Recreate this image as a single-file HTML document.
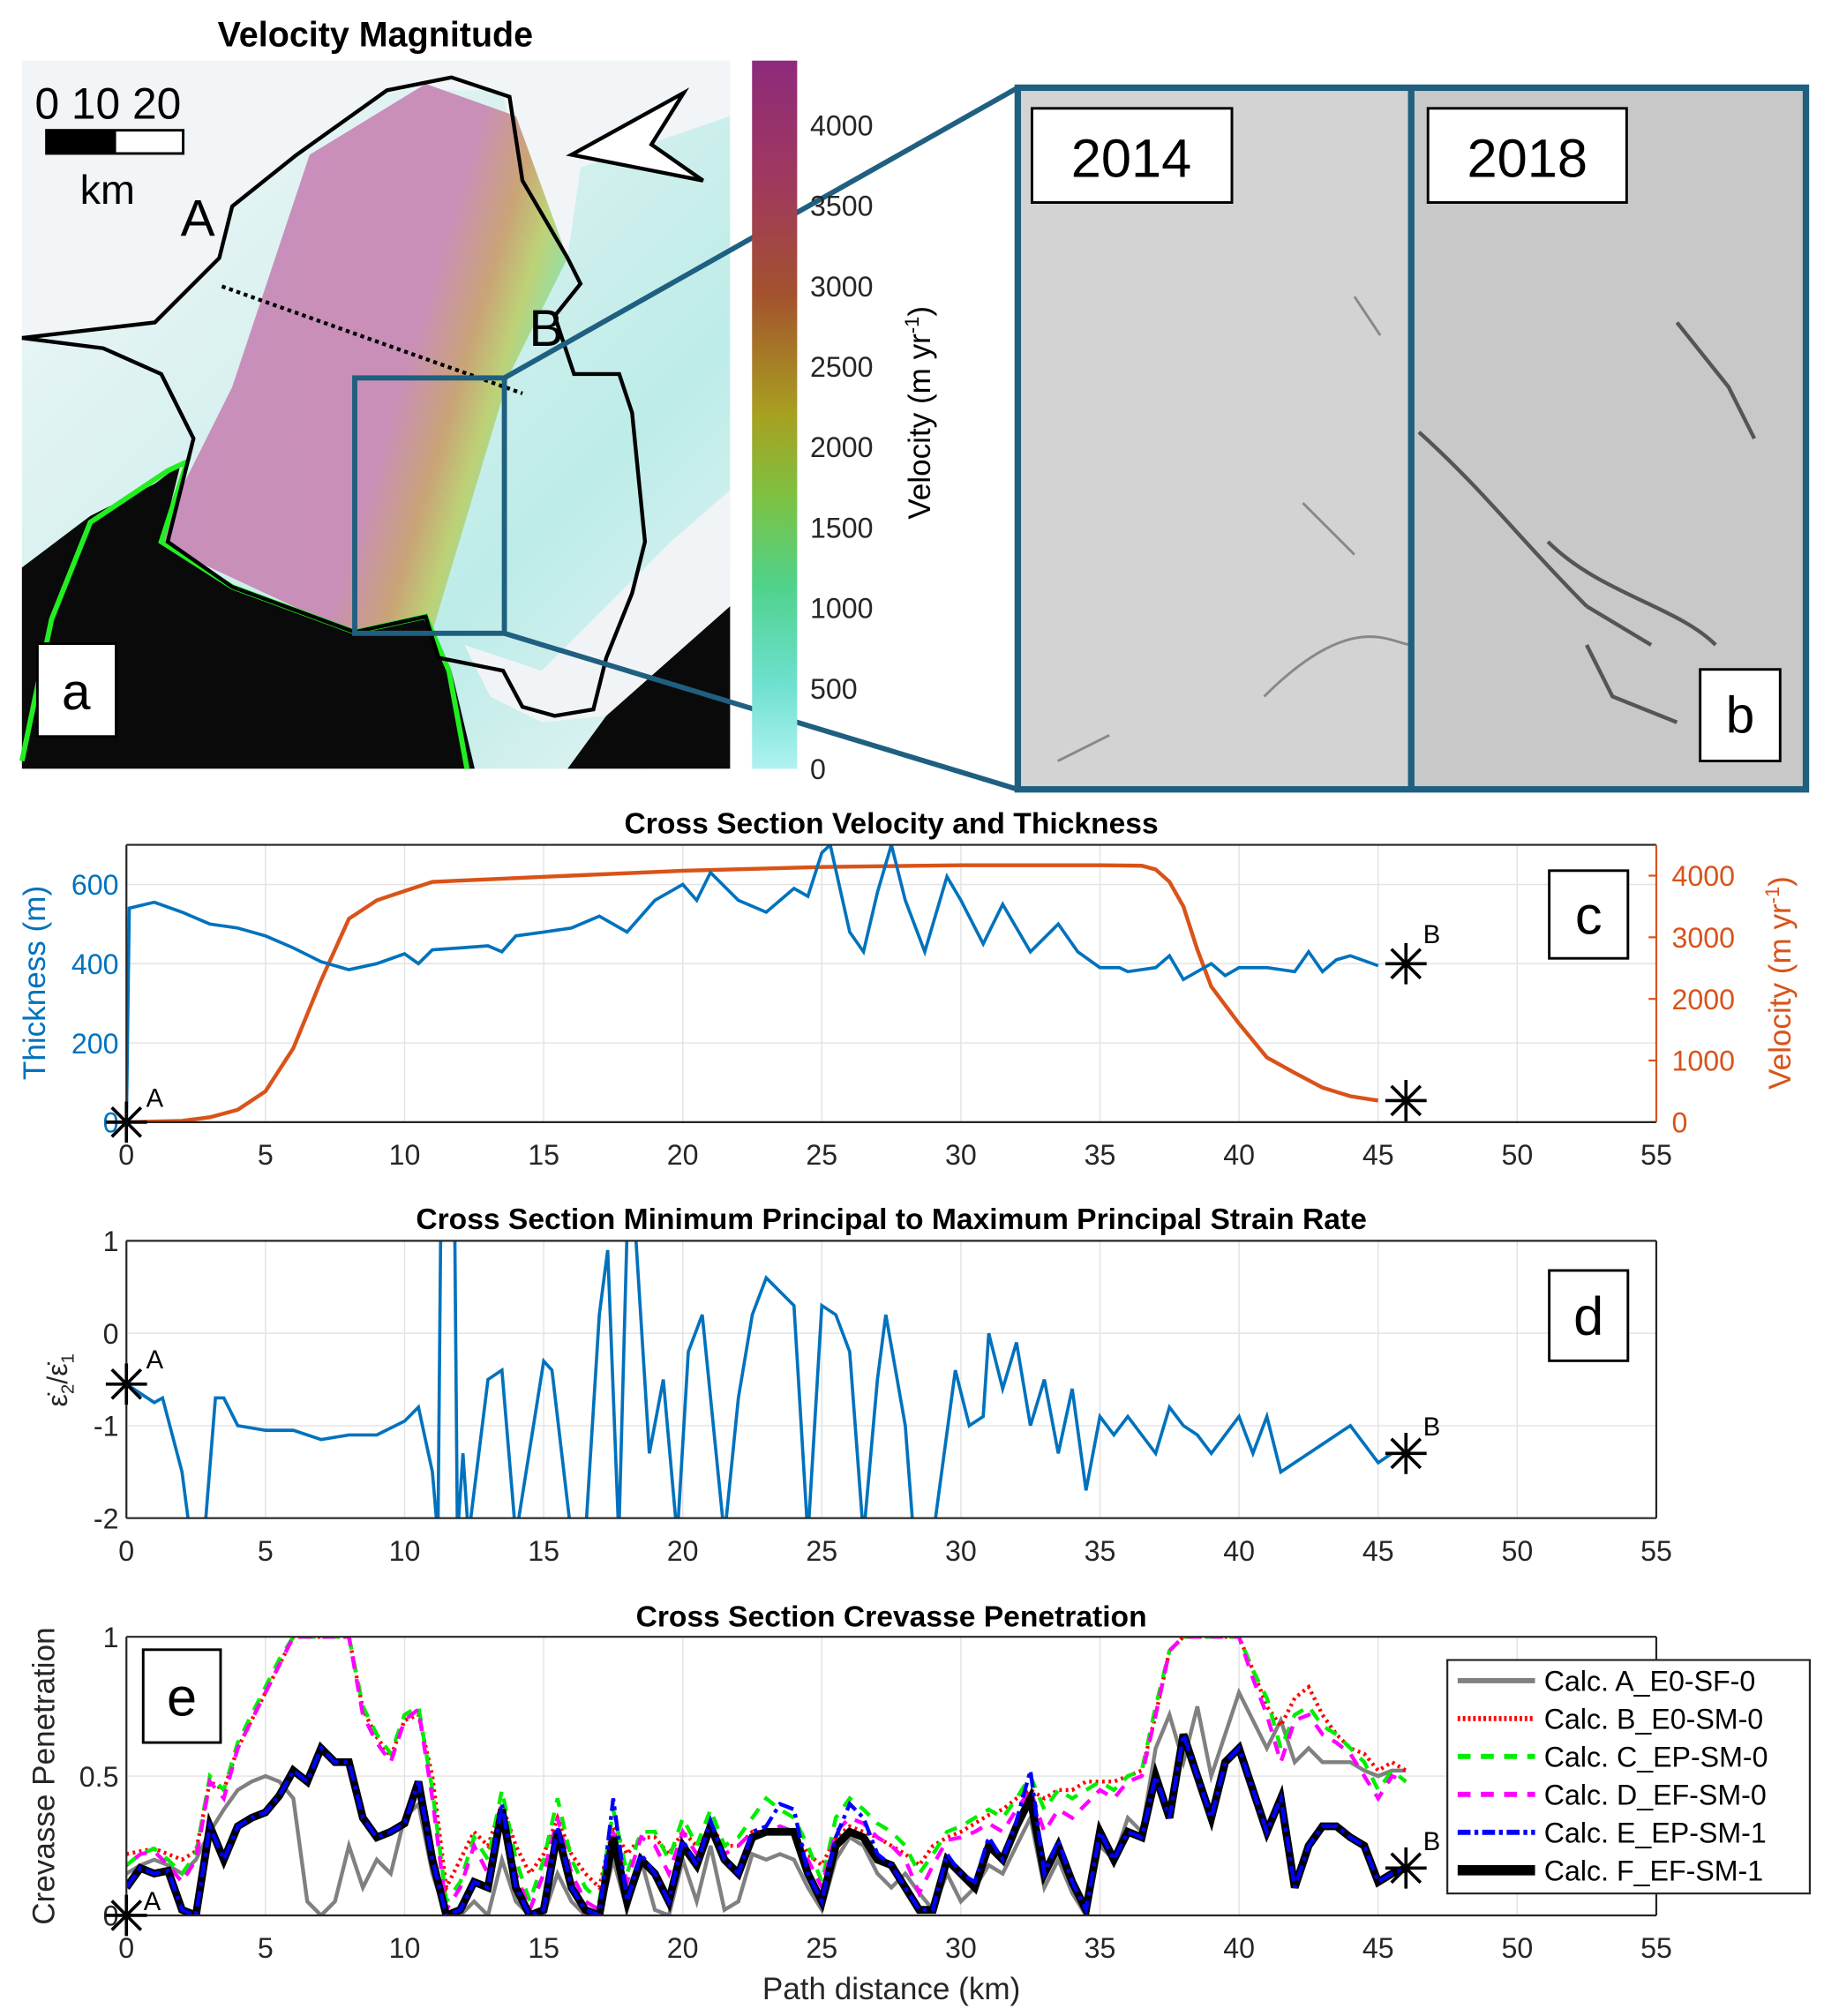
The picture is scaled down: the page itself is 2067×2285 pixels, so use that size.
<!DOCTYPE html>
<html><head><meta charset="utf-8"><style>
html,body{margin:0;padding:0;background:#fff}
svg{display:block}
text{font-family:"Liberation Sans",Arial,sans-serif}
</style></head><body>
<svg id="fig" width="2067" height="2285" viewBox="0 0 1414 1563" preserveAspectRatio="none" xmlns="http://www.w3.org/2000/svg">
<defs>
<linearGradient id="bg" x1="0" y1="0" x2="1" y2="1"><stop offset="0" stop-color="#f4f7f9"/><stop offset="0.45" stop-color="#d4f0ee"/><stop offset="0.7" stop-color="#bdece8"/><stop offset="1" stop-color="#e8f4f4"/></linearGradient>
<linearGradient id="band" x1="0" y1="0.3" x2="1" y2="0.7"><stop offset="0" stop-color="#c68ab8"/><stop offset="0.6" stop-color="#c98ab5"/><stop offset="0.72" stop-color="#c9a070"/><stop offset="0.8" stop-color="#bcd070"/><stop offset="0.88" stop-color="#8ee0a8"/><stop offset="1" stop-color="#a8ecec"/></linearGradient>
<linearGradient id="cbar" x1="0" y1="0" x2="0" y2="1"><stop offset="0" stop-color="#8e2a7c"/><stop offset="0.18" stop-color="#a03a5c"/><stop offset="0.33" stop-color="#a3522e"/><stop offset="0.5" stop-color="#a8a020"/><stop offset="0.62" stop-color="#7cc244"/><stop offset="0.74" stop-color="#4fd28a"/><stop offset="0.88" stop-color="#6ee0d0"/><stop offset="1" stop-color="#b0f2f2"/></linearGradient>
</defs>
<g id="panel-a">
<text x="291" y="36" font-size="27" font-weight="bold" text-anchor="middle">Velocity Magnitude</text>
<rect x="17" y="47" width="549" height="549" fill="url(#bg)"/>
<polygon points="17,47 566,47 566,90 450,130 440,200 400,140 390,70 300,70 230,120 180,160 170,200 120,250 17,262" fill="#f1f5f7"/>
<polygon points="360,500 420,520 470,470 520,420 566,380 566,470 470,555 420,560 380,540" fill="#f0f4f6"/>
<polygon points="240,120 330,65 400,90 440,200 395,290 335,490 270,490 120,420 180,300" fill="url(#band)" opacity="0.95"/>
<polygon points="17,440 70,400 120,375 140,360 125,420 180,455 275,490 330,478 350,520 368,596 17,596" fill="#0a0a0a"/>
<polygon points="470,555 566,470 566,596 440,596" fill="#0a0a0a"/>
<polyline points="17,590 40,480 70,405 130,365 145,358 125,420 180,455 275,490 330,478 348,520 362,596" fill="none" stroke="#22ee22" stroke-width="4"/>
<path d="M17,262 L120,250 L170,200 L180,160 L230,120 L300,70 L350,60 L395,75 L405,140 L440,200 L450,220 L430,245 L445,290 L480,290 L490,320 L500,420 L490,460 L470,510 L460,550 L430,555 L405,548 L390,520 L340,510 L330,478 L275,490 L180,455 L130,420 L150,340 L125,290 L80,270 L17,262" fill="none" stroke="#000" stroke-width="3"/>
<line x1="172" y1="222" x2="405" y2="305" stroke="#000" stroke-width="3" stroke-dasharray="3,3"/>
<text x="27" y="92" font-size="34">0  10 20</text>
<rect x="35" y="100" width="108" height="20" fill="#000"/>
<rect x="90" y="102" width="51" height="16" fill="#fff"/>
<text x="62" y="158" font-size="32">km</text>
<polygon points="443,120 530,72 505,112 545,140" fill="#fff" stroke="#000" stroke-width="3"/>
<text x="140" y="183" font-size="40">A</text>
<text x="410" y="268" font-size="40">B</text>
<rect x="275" y="293" width="116" height="198" fill="none" stroke="#1f5f80" stroke-width="4"/>
<line x1="391" y1="293" x2="789" y2="68" stroke="#1f5f80" stroke-width="4"/>
<line x1="391" y1="491" x2="789" y2="612" stroke="#1f5f80" stroke-width="4"/>
<rect x="29" y="499" width="61" height="72" fill="#fff" stroke="#000" stroke-width="2"/>
<text x="59" y="550" font-size="40" text-anchor="middle">a</text>
<rect x="583" y="47" width="35" height="549" fill="url(#cbar)"/>
<text transform="translate(721,320) rotate(-90)" font-size="24" text-anchor="middle">Velocity (m yr<tspan font-size="15" dy="-9">-1</tspan><tspan dy="9">)</tspan></text>
<g id="cbticks"></g>
</g>
<g id="panel-b">
<rect x="789" y="68" width="611" height="544" fill="#d3d3d3"/>
<rect x="1094" y="68" width="306" height="544" fill="#c8c8c8"/>
<path d="M1100,335 C1150,380 1180,420 1230,470 M1230,470 L1280,500 M1200,420 C1240,460 1300,470 1330,500 M1300,250 L1340,300 L1360,340 M1230,500 L1250,540 L1300,560" stroke="#555" stroke-width="3" fill="none"/>
<path d="M1010,390 L1050,430 M1050,230 L1070,260 M820,590 L860,570 M980,540 C1050,470 1080,500 1094,500" stroke="#888" stroke-width="2" fill="none"/>
<rect x="789" y="68" width="611" height="544" fill="none" stroke="#1f5f80" stroke-width="5"/>
<line x1="1094" y1="68" x2="1094" y2="612" stroke="#1f5f80" stroke-width="5"/>
<rect x="800" y="84" width="155" height="73" fill="#fff" stroke="#000" stroke-width="2"/>
<text x="877" y="137" font-size="42" text-anchor="middle">2014</text>
<rect x="1107" y="84" width="154" height="73" fill="#fff" stroke="#000" stroke-width="2"/>
<text x="1184" y="137" font-size="42" text-anchor="middle">2018</text>
<rect x="1318" y="519" width="62" height="71" fill="#fff" stroke="#000" stroke-width="2"/>
<text x="1349" y="568" font-size="40" text-anchor="middle">b</text>
</g>
<g id="charts"></g>
</svg>
<script>
// ---- Panel c data ----
const thickKm = [0,0.1,1,2,3,4,5,6,7,8,9,10,10.5,11,12,13,13.5,14,15,16,17,18,19,20,20.5,21,22,23,24,24.5,25,25.3,26,26.5,27,27.5,28,28.7,29.5,30,30.8,31.5,32.5,33.5,34.2,35,35.7,36,37,37.5,38,39,39.5,40,41,42,42.5,43,43.5,44,45,46];
const thickVal = [0,540,555,530,500,490,470,440,405,385,400,425,400,435,440,445,430,470,480,490,520,480,560,600,560,630,560,530,590,570,680,700,480,430,580,700,560,430,620,560,450,550,430,500,430,390,390,380,390,420,360,400,370,390,390,380,430,380,410,420,395,400];
const velKm = [0,2,3,4,5,6,7,8,9,10,11,13,15,20,25,30,35,36.5,37,37.5,38,38.5,39,40,41,42,43,44,45,46];
const velVal = [0,20,80,200,500,1200,2300,3300,3600,3750,3900,3940,3980,4080,4140,4170,4170,4160,4100,3900,3500,2800,2200,1600,1050,800,560,420,350,350];
// ---- Panel d data ----
const ratioKm = [0,0.5,1,1.3,2,2.3,2.8,3.2,3.5,4,5,6,7,8,9,10,10.5,11,11.2,11.3,11.8,11.9,12.1,12.3,13,13.5,14,15,15.3,16,16.5,17,17.3,17.7,18,18.3,18.8,19.3,19.8,20.2,20.7,21.5,22,22.5,23,24,24.5,25,25.5,26,26.5,27,27.3,28,28.3,29,29.8,30.3,30.8,31,31.5,32,32.5,33,33.5,34,34.5,35,35.5,36,37,37.5,38,38.5,39,40,40.5,41,41.5,42,43,44,45,45.5];
const ratioVal = [-0.55,-0.65,-0.75,-0.7,-1.5,-2.2,-2.2,-0.7,-0.7,-1.0,-1.05,-1.05,-1.15,-1.1,-1.1,-0.95,-0.8,-1.5,-2.2,1.2,1.2,-2.2,-1.3,-2.2,-0.5,-0.4,-2.2,-0.3,-0.4,-2.2,-2.2,0.2,0.9,-2.2,1.1,1.1,-1.3,-0.5,-2.2,-0.2,0.2,-2.2,-0.7,0.2,0.6,0.3,-2.2,0.3,0.2,-0.2,-2.2,-0.5,0.2,-1.0,-2.2,-2.2,-0.4,-1.0,-0.9,0.0,-0.6,-0.1,-1.0,-0.5,-1.3,-0.6,-1.7,-0.9,-1.1,-0.9,-1.3,-0.8,-1.0,-1.1,-1.3,-0.9,-1.3,-0.9,-1.5,-1.4,-1.2,-1.0,-1.4,-1.3];
// ---- Panel e data ----
const penKm = [0,0.5,1,1.5,2,2.5,3,3.5,4,4.5,5,5.5,6,6.5,7,7.5,8,8.5,9,9.5,10,10.5,11,11.5,12,12.5,13,13.5,14,14.5,15,15.5,16,16.5,17,17.5,18,18.5,19,19.5,20,20.5,21,21.5,22,22.5,23,23.5,24,24.5,25,25.5,26,26.5,27,27.5,28,28.5,29,29.5,30,30.5,31,31.5,32,32.5,33,33.5,34,34.5,35,35.5,36,36.5,37,37.5,38,38.5,39,39.5,40,40.5,41,41.5,42,42.5,43,43.5,44,44.5,45,45.5,46];
const penA = [0.15,0.18,0.20,0.18,0.15,0.20,0.30,0.38,0.45,0.48,0.50,0.48,0.42,0.05,0.00,0.05,0.25,0.10,0.20,0.15,0.35,0.40,0.15,0.00,0.00,0.05,0.00,0.20,0.05,0.00,0.00,0.15,0.05,0.00,0.00,0.20,0.02,0.20,0.02,0.00,0.20,0.05,0.25,0.02,0.05,0.22,0.20,0.22,0.20,0.10,0.02,0.20,0.28,0.25,0.15,0.10,0.15,0.08,0.02,0.15,0.05,0.10,0.18,0.15,0.25,0.35,0.10,0.20,0.08,0.00,0.25,0.20,0.35,0.30,0.60,0.72,0.55,0.75,0.50,0.65,0.80,0.70,0.60,0.70,0.55,0.60,0.55,0.55,0.55,0.52,0.50,0.52,0.52];
const penB = [0.22,0.23,0.24,0.22,0.20,0.23,0.48,0.45,0.60,0.70,0.80,0.90,1.00,1.00,1.00,1.00,1.00,0.74,0.64,0.57,0.70,0.72,0.50,0.10,0.20,0.30,0.25,0.40,0.25,0.15,0.22,0.35,0.22,0.15,0.10,0.32,0.22,0.28,0.28,0.22,0.30,0.25,0.32,0.25,0.25,0.30,0.30,0.30,0.30,0.22,0.18,0.28,0.32,0.30,0.28,0.25,0.22,0.18,0.25,0.28,0.30,0.33,0.36,0.38,0.42,0.45,0.42,0.45,0.45,0.48,0.48,0.48,0.50,0.52,0.72,0.95,1.00,1.00,1.00,1.00,1.00,0.88,0.75,0.68,0.78,0.82,0.72,0.65,0.60,0.58,0.52,0.55,0.52];
const penC = [0.18,0.22,0.24,0.20,0.15,0.22,0.50,0.45,0.62,0.72,0.82,0.92,1.00,1.00,1.00,1.00,1.00,0.75,0.65,0.58,0.72,0.75,0.45,0.05,0.12,0.28,0.20,0.45,0.20,0.05,0.20,0.42,0.20,0.10,0.05,0.38,0.15,0.30,0.30,0.20,0.35,0.25,0.38,0.25,0.28,0.35,0.42,0.38,0.35,0.25,0.12,0.35,0.42,0.38,0.33,0.30,0.25,0.15,0.22,0.30,0.32,0.35,0.38,0.35,0.42,0.50,0.38,0.45,0.42,0.45,0.48,0.45,0.50,0.52,0.75,0.95,1.00,1.00,1.00,1.00,1.00,0.88,0.78,0.60,0.72,0.75,0.68,0.65,0.60,0.55,0.45,0.52,0.48];
const penD = [0.18,0.22,0.23,0.18,0.12,0.20,0.48,0.42,0.60,0.70,0.80,0.90,1.00,1.00,1.00,1.00,1.00,0.72,0.62,0.55,0.70,0.74,0.42,0.02,0.10,0.25,0.15,0.38,0.15,0.02,0.15,0.35,0.15,0.05,0.02,0.30,0.12,0.28,0.25,0.15,0.30,0.22,0.33,0.22,0.25,0.30,0.30,0.32,0.30,0.20,0.10,0.30,0.35,0.33,0.28,0.25,0.20,0.08,0.18,0.27,0.28,0.30,0.33,0.30,0.38,0.45,0.30,0.38,0.35,0.40,0.45,0.42,0.48,0.50,0.72,0.95,1.00,1.00,1.00,1.00,1.00,0.85,0.72,0.55,0.70,0.72,0.65,0.62,0.58,0.50,0.42,0.50,0.48];
const penE = [0.10,0.17,0.15,0.16,0.02,0.00,0.32,0.20,0.32,0.35,0.37,0.43,0.52,0.48,0.60,0.55,0.55,0.35,0.28,0.30,0.33,0.48,0.20,0.00,0.02,0.12,0.10,0.40,0.10,0.00,0.02,0.32,0.10,0.02,0.00,0.42,0.05,0.22,0.15,0.05,0.27,0.18,0.34,0.20,0.15,0.30,0.32,0.40,0.38,0.15,0.05,0.28,0.40,0.35,0.22,0.18,0.10,0.02,0.02,0.22,0.15,0.12,0.28,0.20,0.34,0.52,0.15,0.27,0.12,0.02,0.30,0.20,0.30,0.28,0.50,0.35,0.65,0.50,0.35,0.55,0.60,0.45,0.30,0.42,0.10,0.25,0.32,0.32,0.28,0.25,0.12,0.15,0.17];
const penF = [0.10,0.17,0.15,0.16,0.02,0.00,0.32,0.20,0.32,0.35,0.37,0.43,0.52,0.48,0.60,0.55,0.55,0.35,0.28,0.30,0.33,0.48,0.20,0.00,0.02,0.12,0.10,0.38,0.10,0.00,0.02,0.30,0.10,0.02,0.00,0.28,0.05,0.20,0.15,0.05,0.25,0.18,0.32,0.20,0.15,0.28,0.30,0.30,0.30,0.15,0.05,0.25,0.30,0.28,0.20,0.18,0.10,0.02,0.02,0.20,0.15,0.10,0.25,0.20,0.32,0.42,0.15,0.25,0.12,0.02,0.30,0.20,0.30,0.28,0.50,0.35,0.65,0.50,0.35,0.55,0.60,0.45,0.30,0.42,0.10,0.25,0.32,0.32,0.28,0.25,0.12,0.15,0.17];
const xTicks = [0,5,10,15,20,25,30,35,40,45,50,55];
const thickTicks = [0,200,400,600];
const velTicks = [0,1000,2000,3000,4000];
const ratioTicks = [1,0,-1,-2];
const penTicks = [0,0.5,1];
const cbTicks = [0,500,1000,1500,2000,2500,3000,3500,4000];
const legendLabels = ["Calc. A_E0-SF-0","Calc. B_E0-SM-0","Calc. C_EP-SM-0","Calc. D_EF-SM-0","Calc. E_EP-SM-1","Calc. F_EF-SM-1"];

const NS="http://www.w3.org/2000/svg";
const root=document.getElementById('charts');
function mk(tag,attrs,parent){const e=document.createElementNS(NS,tag);for(const k in attrs)e.setAttribute(k,attrs[k]);(parent||root).appendChild(e);return e;}
const X0=98,X1=1284;
const X=km=>X0+km*(X1-X0)/55;
const yT=t=>870-t*(215/700);
const yV=v=>870-v*(215/4500);
const yD=r=>962+(1-r)*(215/3);
const yE=p=>1485-p*216;
function txt(x,y,s,size,anchor,fill,parent){const t=mk('text',{x:x,y:y,'font-size':size,'text-anchor':anchor||'middle',fill:fill||'#262626'},parent);t.textContent=s;return t;}
function pts(xs,ys,fy){return xs.map((k,i)=>X(k).toFixed(1)+','+fy(ys[i]).toFixed(1)).join(' ');}
function star(cx,cy,r,parent){const g=mk('g',{},parent);for(let a=0;a<4;a++){const an=a*Math.PI/4;mk('line',{x1:cx-r*Math.cos(an),y1:cy-r*Math.sin(an),x2:cx+r*Math.cos(an),y2:cy+r*Math.sin(an),stroke:'#000','stroke-width':2.5},g);}}

const cbg=document.getElementById('cbticks');
cbTicks.forEach(v=>{const y=596-v*(549/4400);const t=txt(628,y+8,String(v),22,'start','#262626',cbg);});

function axesFrame(top,bot,name,yTicks,fy,leftColor,clipId){
  const g=mk('g',{});
  
  
  mk('rect',{x:X0,y:top,width:X1-X0,height:bot-top,fill:'#fff'},g);
  xTicks.forEach(k=>{const l=mk('line',{x1:X(k),y1:top,x2:X(k),y2:bot,stroke:'#e3e3e3','stroke-width':1},g);
    const t=txt(X(k),bot+33,String(k),22,'middle','#262626',g);});
  yTicks.forEach(v=>{const l=mk('line',{x1:X0,y1:fy(v),x2:X1,y2:fy(v),stroke:'#e3e3e3','stroke-width':1},g);
    const t=txt(X0-6,fy(v)+8,String(v),22,'end',leftColor,g);});
  const cp=mk('clipPath',{id:clipId},g);mk('rect',{x:X0,y:top,width:X1-X0,height:bot-top},cp);
  return g;
}
function border(top,bot,g,rightColor){
  mk('line',{x1:X0,y1:top,x2:X1,y2:top,stroke:'#262626','stroke-width':1.5},g);
  mk('line',{x1:X0,y1:bot,x2:X1,y2:bot,stroke:'#262626','stroke-width':1.5},g);
  mk('line',{x1:X0,y1:top,x2:X0,y2:bot,stroke:'#262626','stroke-width':1.5},g);
  mk('line',{x1:X1,y1:top,x2:X1,y2:bot,stroke:rightColor||'#262626','stroke-width':1.5},g);
}
function letterBox(x,y,w,h,s,parent,name){const r=mk('rect',{x:x,y:y,width:w,height:h,fill:'#fff',stroke:'#000','stroke-width':2},parent);const t=txt(x+w/2,y+h/2+15,s,42,'middle','#000',parent);}

// ---- Panel c ----
const gc=axesFrame(655,870,'chart-c-velocity-thickness',thickTicks,yT,'#0072BD','clipc');
velTicks.forEach(v=>{const t=txt(X1+12,yV(v)+8,String(v),22,'start','#D95319',gc);mk('line',{x1:X1-6,y1:yV(v),x2:X1,y2:yV(v),stroke:'#D95319','stroke-width':1.5},gc);});
let t=txt(691,646,'Cross Section Velocity and Thickness',23,'middle','#000',gc);t.setAttribute('font-weight','bold');
t=txt(0,0,'Thickness (m)',24,'middle','#0072BD',gc);t.setAttribute('transform','translate(35,762) rotate(-90)');
t=mk('text',{transform:'translate(1388,762) rotate(-90)','font-size':24,'text-anchor':'middle',fill:'#D95319'},gc);t.innerHTML='Velocity (m yr<tspan font-size="15" dy="-9">-1</tspan><tspan dy="9">)</tspan>';
let p=mk('polyline',{points:pts(velKm.slice(0,-1),velVal.slice(0,-1),yV),fill:'none',stroke:'#D95319','stroke-width':3,'clip-path':'url(#clipc)'},gc);
p=mk('polyline',{points:pts(thickKm.slice(0,-1),thickVal.slice(0,-1),yT),fill:'none',stroke:'#0072BD','stroke-width':2.5,'clip-path':'url(#clipc)'},gc);
border(655,870,gc,'#D95319');
star(X(0),yT(0),16,gc);txt(X(0)+22,yT(0)-12,'A',20,'middle','#000',gc);
star(X(46),yT(thickVal[thickVal.length-1]),16,gc);txt(X(46)+20,yT(thickVal[thickVal.length-1])-16,'B',20,'middle','#000',gc);
star(X(46),yV(velVal[velVal.length-1]),16,gc);
letterBox(1201,675,61,68,'c',gc,'label-c');

// ---- Panel d ----
const gd=axesFrame(962,1177,'chart-d-strain-ratio',ratioTicks,yD,'#262626','clipd');
t=txt(691,953,'Cross Section Minimum Principal to Maximum Principal Strain Rate',23,'middle','#000',gd);t.setAttribute('font-weight','bold');
t=mk('text',{transform:'translate(52,1070) rotate(-90)','font-size':22,'text-anchor':'middle',fill:'#262626','font-family':'Liberation Serif, serif'},gd);t.innerHTML='ε̇<tspan font-size="14" dy="5">2</tspan><tspan dy="-5">/ε̇</tspan><tspan font-size="14" dy="5">1</tspan>';
p=mk('polyline',{points:pts(ratioKm,ratioVal,yD),fill:'none',stroke:'#0072BD','stroke-width':2.5,'clip-path':'url(#clipd)'},gd);
border(962,1177,gd);
star(X(0),yD(ratioVal[0]),16,gd);txt(X(0)+22,yD(ratioVal[0])-12,'A',20,'middle','#000',gd);
star(X(46),yD(-1.3),16,gd);txt(X(46)+20,yD(-1.3)-14,'B',20,'middle','#000',gd);
letterBox(1201,985,61,70,'d',gd,'label-d');

// ---- Panel e ----
const ge=axesFrame(1269,1485,'chart-e-crevasse-penetration',penTicks,yE,'#262626','clipe');
t=txt(691,1261,'Cross Section Crevasse Penetration',23,'middle','#000',ge);t.setAttribute('font-weight','bold');
t=txt(0,0,'Crevasse Penetration',24,'middle','#262626',ge);t.setAttribute('transform','translate(42,1377) rotate(-90)');
t=txt(691,1550,'Path distance (km)',24,'middle','#262626',ge);
p=mk('polyline',{points:pts(penKm,penA,yE),fill:'none',stroke:'#808080','stroke-width':3,'clip-path':'url(#clipe)'},ge);
p=mk('polyline',{points:pts(penKm,penB,yE),fill:'none',stroke:'#ff0000','stroke-width':3,'stroke-dasharray':'2,3','clip-path':'url(#clipe)'},ge);
p=mk('polyline',{points:pts(penKm,penC,yE),fill:'none',stroke:'#00ee00','stroke-width':3,'stroke-dasharray':'10,8','clip-path':'url(#clipe)'},ge);
p=mk('polyline',{points:pts(penKm,penD,yE),fill:'none',stroke:'#ff00ff','stroke-width':3,'stroke-dasharray':'10,8','stroke-dashoffset':9,'clip-path':'url(#clipe)'},ge);
p=mk('polyline',{points:pts(penKm,penF,yE),fill:'none',stroke:'#000','stroke-width':6,'clip-path':'url(#clipe)'},ge);
p=mk('polyline',{points:pts(penKm,penE,yE),fill:'none',stroke:'#0000ff','stroke-width':3,'stroke-dasharray':'12,4,3,4','clip-path':'url(#clipe)'},ge);
border(1269,1485,ge);
star(X(0),yE(0),16,ge);txt(X(0)+20,yE(0)-4,'A',20,'middle','#000',ge);
star(X(46),yE(penF[penF.length-1]),16,ge);txt(X(46)+20,yE(penF[penF.length-1])-14,'B',20,'middle','#000',ge);
letterBox(111,1279,60,72,'e',ge,'label-e');
const lg=mk('g',{},ge);


mk('rect',{x:1122,y:1287,width:281,height:181,fill:'#fff',stroke:'#262626','stroke-width':1.5},lg);
const legStyles=[{s:'#808080',w:4,d:''},{s:'#ff0000',w:4,d:'2,2'},{s:'#00ee00',w:4,d:'10,8'},{s:'#ff00ff',w:4,d:'10,8'},{s:'#0000ff',w:4,d:'10,3,3,3'},{s:'#000',w:8,d:''}];
legendLabels.forEach((s,i)=>{const y=1303+i*29.4;const e=mk('g',{},lg);
  mk('line',{x1:1130,y1:y,x2:1190,y2:y,stroke:legStyles[i].s,'stroke-width':legStyles[i].w,'stroke-dasharray':legStyles[i].d},e);
  txt(1197,y+8,s,22,'start','#000',e);});
</script>
</body></html>
